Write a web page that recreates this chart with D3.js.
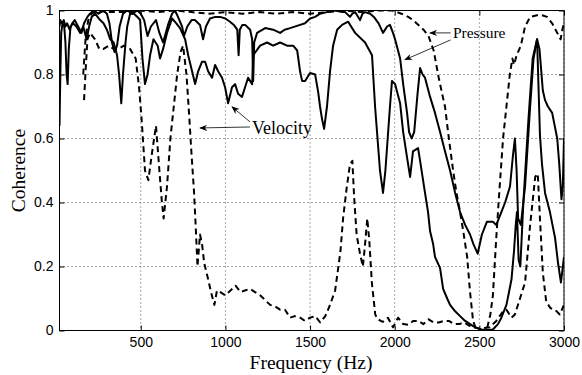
<!DOCTYPE html>
<html lang="en">
<head>
<meta charset="utf-8">
<title>Coherence</title>
<script src="https://cdn.jsdelivr.net/npm/d3@7"></script>
<style>
  body { margin: 0; background: #fff; }
  .tick text { font-family: "Liberation Sans", Arial, sans-serif; font-size: 14px; fill: #000; }
  .lbl { font-family: "Liberation Serif", "Times New Roman", serif; fill: #000; }
</style>
</head>
<body>
<script>
// [frequency Hz, coherence]
var pressureSolid = [[20,0.95],[25,0.97],[35,0.96],[45,0.97],[55,0.95],[65,0.96],[80,0.94],[95,0.96],[110,0.97],[130,0.95],[150,0.93],[165,0.96],[185,0.98],[200,0.99],[220,1.0],[250,0.99],[280,1.0],[300,0.99],[315,0.96],[330,0.9],[345,0.87],[360,0.89],[375,0.95],[395,0.99],[420,1.0],[450,0.99],[480,1.0],[500,0.99],[520,0.97],[540,0.92],[560,0.95],[590,0.97],[610,0.93],[632,0.9],[661,0.955],[685,0.99],[702,1.0],[720,0.98],[744,0.95],[755,0.92],[775,0.95],[800,0.97],[820,0.97],[850,0.955],[868,0.91],[885,0.95],[909,0.975],[940,0.98],[968,0.98],[1000,0.975],[1027,0.965],[1050,0.955],[1070,0.94],[1078,0.86],[1085,0.94],[1100,0.955],[1117,0.955],[1146,0.94],[1158,0.91],[1164,0.78],[1170,0.9],[1187,0.93],[1235,0.945],[1282,0.94],[1323,0.93],[1350,0.94],[1382,0.945],[1441,0.955],[1470,0.96],[1500,0.975],[1530,0.98],[1559,0.99],[1600,0.995],[1648,1.0],[1690,0.995],[1707,0.995],[1736,0.98],[1750,0.99],[1766,0.995],[1795,0.97],[1810,0.99],[1825,0.995],[1855,0.99],[1877,0.98],[1905,0.96],[1931,0.93],[1955,0.95],[1972,0.955],[1990,0.93],[2002,0.91],[2032,0.85],[2050,0.77],[2073,0.68],[2085,0.62],[2100,0.6],[2115,0.62],[2135,0.74],[2150,0.82],[2165,0.8],[2179,0.79],[2209,0.73],[2238,0.68],[2268,0.62],[2297,0.56],[2327,0.5],[2357,0.43],[2386,0.37],[2416,0.33],[2445,0.3],[2465,0.27],[2490,0.24],[2515,0.3],[2545,0.34],[2580,0.34],[2600,0.33],[2630,0.37],[2652,0.4],[2681,0.45],[2699,0.55],[2710,0.6],[2720,0.5],[2729,0.35],[2745,0.33],[2770,0.45],[2800,0.7],[2820,0.85],[2841,0.91],[2855,0.88],[2875,0.75],[2888,0.72],[2905,0.7],[2930,0.68],[2960,0.6],[2972,0.52],[2985,0.41],[2993,0.45],[3000,0.6]];

var pressureDashed = [[160,0.8],[175,0.92],[190,0.97],[210,0.99],[250,1.0],[300,0.995],[400,0.995],[500,1.0],[600,0.995],[700,1.0],[800,0.995],[900,0.99],[1000,0.995],[1100,0.99],[1200,0.995],[1300,0.99],[1400,0.995],[1500,0.99],[1600,0.995],[1700,1.0],[1800,0.995],[1900,1.0],[1985,1.0],[2040,0.99],[2080,0.98],[2108,0.97],[2140,0.955],[2170,0.94],[2200,0.92],[2230,0.875],[2260,0.79],[2280,0.74],[2297,0.7],[2320,0.6],[2345,0.5],[2365,0.43],[2386,0.37],[2405,0.31],[2428,0.23],[2445,0.12],[2463,0.03],[2480,0.005],[2520,0.0],[2545,0.005],[2565,0.05],[2580,0.11],[2600,0.29],[2620,0.45],[2640,0.6],[2660,0.7],[2680,0.8],[2695,0.85],[2705,0.83],[2720,0.86],[2745,0.89],[2770,0.95],[2800,0.98],[2840,0.985],[2870,0.985],[2900,0.98],[2930,0.96],[2960,0.93],[2980,0.91],[2990,0.94],[3000,0.96]];

var velocitySolid = [[20,0.64],[25,0.8],[30,0.93],[38,0.96],[48,0.95],[55,0.9],[62,0.8],[68,0.77],[75,0.88],[85,0.95],[100,0.96],[120,0.95],[142,0.93],[160,0.95],[180,0.91],[195,0.95],[210,0.98],[230,0.99],[260,0.97],[280,0.96],[300,0.94],[320,0.91],[340,0.9],[360,0.86],[372,0.8],[385,0.71],[395,0.8],[410,0.9],[420,0.95],[437,0.99],[460,0.99],[480,0.98],[496,0.97],[510,0.85],[525,0.77],[540,0.8],[555,0.86],[575,0.91],[600,0.89],[614,0.85],[632,0.88],[655,0.93],[685,0.975],[710,0.96],[732,0.945],[762,0.91],[780,0.86],[803,0.81],[821,0.77],[839,0.81],[862,0.84],[880,0.84],[898,0.81],[921,0.79],[939,0.83],[957,0.81],[980,0.79],[998,0.76],[1016,0.71],[1039,0.76],[1057,0.77],[1075,0.74],[1098,0.73],[1116,0.76],[1134,0.79],[1158,0.77],[1164,0.86],[1205,0.89],[1246,0.9],[1282,0.89],[1323,0.9],[1364,0.89],[1400,0.89],[1424,0.875],[1441,0.81],[1453,0.78],[1471,0.78],[1500,0.805],[1530,0.8],[1548,0.745],[1559,0.7],[1571,0.66],[1583,0.63],[1600,0.7],[1618,0.81],[1636,0.89],[1660,0.94],[1689,0.955],[1725,0.965],[1766,0.93],[1825,0.9],[1866,0.86],[1884,0.7],[1913,0.5],[1931,0.43],[1945,0.5],[1972,0.7],[1984,0.78],[2002,0.77],[2032,0.71],[2050,0.62],[2073,0.54],[2091,0.48],[2108,0.56],[2138,0.57],[2150,0.53],[2179,0.43],[2197,0.37],[2209,0.31],[2227,0.27],[2238,0.23],[2268,0.195],[2286,0.13],[2310,0.1],[2327,0.08],[2357,0.06],[2386,0.045],[2416,0.03],[2445,0.02],[2475,0.01],[2520,0.002],[2580,0.003],[2610,0.02],[2630,0.04],[2660,0.08],[2690,0.16],[2705,0.25],[2715,0.33],[2722,0.37],[2732,0.22],[2742,0.2],[2760,0.4],[2790,0.66],[2815,0.85],[2841,0.91],[2858,0.61],[2870,0.52],[2888,0.43],[2917,0.37],[2947,0.29],[2965,0.21],[2982,0.15],[3000,0.23]];

var velocityDashed = [[165,0.72],[175,0.82],[185,0.91],[200,0.93],[230,0.91],[255,0.88],[280,0.88],[310,0.89],[340,0.88],[370,0.88],[400,0.89],[437,0.88],[470,0.85],[490,0.76],[505,0.66],[525,0.5],[545,0.47],[565,0.55],[590,0.64],[610,0.5],[625,0.4],[635,0.35],[655,0.45],[675,0.6],[695,0.7],[715,0.8],[735,0.87],[750,0.89],[770,0.8],[785,0.68],[800,0.55],[815,0.43],[825,0.32],[835,0.2],[850,0.3],[862,0.27],[875,0.21],[898,0.16],[915,0.12],[935,0.08],[950,0.125],[970,0.12],[1000,0.11],[1030,0.125],[1060,0.14],[1090,0.12],[1115,0.125],[1145,0.13],[1175,0.12],[1205,0.11],[1235,0.095],[1264,0.08],[1294,0.075],[1323,0.065],[1352,0.065],[1382,0.04],[1410,0.045],[1441,0.04],[1470,0.03],[1500,0.04],[1530,0.045],[1560,0.025],[1590,0.045],[1618,0.08],[1648,0.125],[1665,0.19],[1680,0.25],[1695,0.35],[1715,0.44],[1736,0.52],[1750,0.53],[1760,0.42],[1775,0.3],[1795,0.24],[1812,0.2],[1825,0.27],[1838,0.35],[1850,0.28],[1865,0.15],[1885,0.05],[1900,0.035],[1930,0.027],[1960,0.04],[1990,0.01],[2020,0.04],[2050,0.02],[2080,0.018],[2110,0.03],[2140,0.03],[2170,0.02],[2200,0.035],[2230,0.025],[2260,0.025],[2290,0.03],[2320,0.03],[2350,0.02],[2380,0.02],[2410,0.025],[2440,0.015],[2470,0.01],[2500,0.005],[2530,0.008],[2560,0.01],[2600,0.03],[2640,0.06],[2660,0.065],[2690,0.04],[2710,0.05],[2740,0.1],[2770,0.15],[2800,0.33],[2830,0.48],[2845,0.49],[2858,0.35],[2875,0.18],[2895,0.09],[2920,0.07],[2947,0.065],[2975,0.05],[3000,0.08]];

var xTicks = [500, 1000, 1500, 2000, 2500, 3000];
var yTicks = [0, 0.2, 0.4, 0.6, 0.8, 1];

var w = 582, h = 375;
var margin = {top: 10.5, right: 18, bottom: 44.5, left: 59.5};
var iw = w - margin.left - margin.right;
var ih = h - margin.top - margin.bottom;

var x = d3.scaleLinear().domain([20, 3000]).range([0, iw]);
var y = d3.scaleLinear().domain([0, 1]).range([ih, 0]);

var svg = d3.select("body").append("svg")
  .attr("width", w)
  .attr("height", h);

var defs = svg.append("defs");
defs.append("clipPath").attr("id", "clip")
  .append("rect").attr("width", iw).attr("height", ih);
defs.append("marker")
  .attr("id", "head")
  .attr("viewBox", "0 0 10 10")
  .attr("refX", 9).attr("refY", 5)
  .attr("markerWidth", 8).attr("markerHeight", 8)
  .attr("markerUnits", "userSpaceOnUse")
  .attr("orient", "auto")
  .append("path")
  .attr("d", "M0,1 L10,5 L0,9 L3,5 Z")
  .attr("fill", "#000");

var g = svg.append("g")
  .attr("transform", "translate(" + margin.left + "," + margin.top + ")");

//Grid
g.append("g").selectAll("line").data(xTicks).enter().append("line")
  .attr("x1", function(d) { return x(d); }).attr("x2", function(d) { return x(d); })
  .attr("y1", 0).attr("y2", ih)
  .attr("stroke", "#555").attr("stroke-width", 1).attr("stroke-dasharray", "1,3");
g.append("g").selectAll("line").data(yTicks).enter().append("line")
  .attr("y1", function(d) { return y(d); }).attr("y2", function(d) { return y(d); })
  .attr("x1", 0).attr("x2", iw)
  .attr("stroke", "#555").attr("stroke-width", 1).attr("stroke-dasharray", "1,3");

//Lines
var line = d3.line()
  .x(function(d) { return x(d[0]); })
  .y(function(d) { return y(d[1]); });

var series = [
  {data: pressureSolid, dash: null},
  {data: velocitySolid, dash: null},
  {data: pressureDashed, dash: "6,4"},
  {data: velocityDashed, dash: "6,4"}
];

g.append("g").attr("clip-path", "url(#clip)")
  .selectAll("path").data(series).enter().append("path")
  .attr("d", function(d) { return line(d.data); })
  .attr("fill", "none")
  .attr("stroke", "#000")
  .attr("stroke-width", 2)
  .attr("stroke-linejoin", "round")
  .attr("stroke-dasharray", function(d) { return d.dash; });

//Axes, ticks inside
var xAxis = d3.axisBottom(x).tickValues(xTicks).tickSize(-5).tickPadding(7).tickFormat(d3.format("d"));
var yAxis = d3.axisLeft(y).tickValues(yTicks).tickSize(-5).tickPadding(6).tickFormat(function(d) { return d === 0 || d === 1 ? String(d) : d.toFixed(1); });

var xa = g.append("g").attr("transform", "translate(0," + ih + ")").call(xAxis);
var ya = g.append("g").call(yAxis);
var xt = g.append("g").call(d3.axisTop(x).tickValues(xTicks).tickSize(-5).tickFormat(""));
var yr = g.append("g").attr("transform", "translate(" + iw + ",0)").call(d3.axisRight(y).tickValues(yTicks).tickSize(-5).tickFormat(""));
[xa, ya, xt, yr].forEach(function(a) {
  a.select(".domain").remove();
  a.selectAll(".tick line").attr("stroke", "#000");
});

g.append("rect")
  .attr("width", iw).attr("height", ih)
  .attr("fill", "none").attr("stroke", "#000").attr("stroke-width", 1);

//Axis labels
svg.append("text").attr("class", "lbl")
  .attr("x", 311).attr("y", 368.5)
  .attr("text-anchor", "middle").attr("font-size", 19.5)
  .text("Frequency (Hz)");

svg.append("text").attr("class", "lbl")
  .attr("transform", "translate(25," + (margin.top + ih / 2) + ") rotate(-90)")
  .attr("text-anchor", "middle").attr("font-size", 19.5)
  .text("Coherence");

//Annotations
function arrow(x1, y1, x2, y2) {
  g.append("line")
    .attr("x1", x(x1)).attr("y1", y(y1))
    .attr("x2", x(x2)).attr("y2", y(y2))
    .attr("stroke", "#000").attr("stroke-width", 0.8)
    .attr("marker-end", "url(#head)");
}

g.append("text").attr("class", "lbl")
  .attr("x", x(1157)).attr("y", y(0.633)).attr("dy", "0.35em")
  .attr("font-size", 18).text("Velocity");
arrow(1145, 0.636, 850, 0.633);
arrow(1145, 0.652, 1039, 0.699);

g.append("text").attr("class", "lbl")
  .attr("x", x(2344)).attr("y", y(0.93)).attr("dy", "0.35em")
  .attr("font-size", 15.5).text("Pressure");
arrow(2330, 0.93, 2208, 0.93);
arrow(2330, 0.908, 2060, 0.846);
</script>
</body>
</html>
